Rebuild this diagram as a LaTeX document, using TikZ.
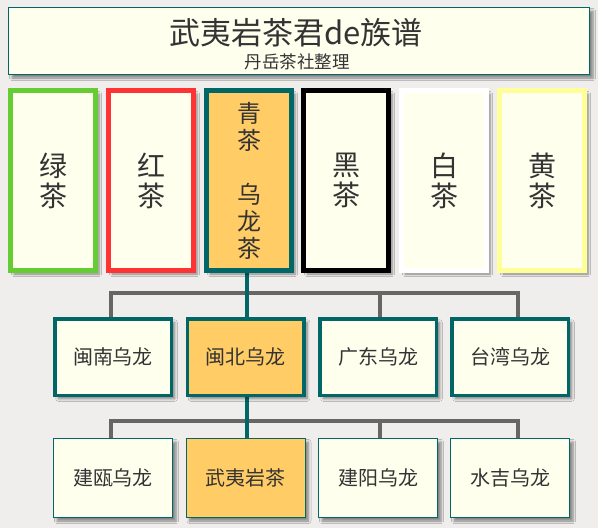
\documentclass[tikz,border=0pt]{standalone}
\usepackage{fontspec}
\setmainfont{Noto Sans CJK SC}
\usetikzlibrary{shadows.blur,backgrounds}
\definecolor{bg}{HTML}{EFEEED}
\definecolor{ivory}{HTML}{FFFFEE}
\definecolor{orangefill}{HTML}{FFCC66}
\definecolor{tealc}{HTML}{006666}
\definecolor{greenc}{HTML}{66CC33}
\definecolor{redc}{HTML}{FF3333}
\definecolor{yellowc}{HTML}{FFFF99}
\definecolor{grayline}{HTML}{666666}
\definecolor{txt}{HTML}{333333}
\tikzset{
  sh/.style={blur shadow={shadow xshift=3.5pt, shadow yshift=-3.5pt, shadow blur steps=6, shadow opacity=45, shadow blur radius=2.5pt}},
  topbox/.style={draw, line width=5pt, fill=ivory, minimum width=85pt, minimum height=180pt, inner sep=0pt, sh, text=txt, align=center, font=\fontsize{28}{30}\selectfont},
  midbox/.style={draw=tealc, line width=3.5pt, fill=ivory, minimum width=116.5pt, minimum height=76.5pt, inner sep=0pt, sh, text=txt, font=\fontsize{20}{22}\selectfont},
  lowbox/.style={draw=tealc, line width=1pt, fill=ivory, minimum width=119pt, minimum height=79pt, inner sep=0pt, sh, text=txt, font=\fontsize{20}{22}\selectfont},
  bus/.style={draw=grayline, line width=4pt},
  trunk/.style={draw=tealc, line width=4pt},
}
\begin{document}
\begin{tikzpicture}[x=1pt,y=-1pt]
\useasboundingbox (0,0) rectangle (598,528);

% title
\node[draw=tealc, line width=1pt, fill=ivory, minimum width=581pt, minimum height=67pt, inner sep=0pt, sh] (title) at (299,41) {};
\node[text=txt, font=\fontsize{31}{34}\selectfont, inner sep=0pt] (tmain) at (296,33) {武夷岩茶君de族谱};
\node[text=txt, font=\fontsize{17.5}{19}\selectfont, inner sep=0pt] (tsub) at (297,62) {丹岳茶社整理};

\coordinate (b1) at (110.5,293);
\coordinate (b2) at (380,293);
\coordinate (b3) at (518,293);
\coordinate (c1) at (110.5,421);
\coordinate (c2) at (380,421);
\coordinate (c3) at (518,421);

% top row
\node[topbox, draw=greenc] (lv) at (53,180.5) {绿\\茶};
\node[topbox, draw=redc] (hong) at (151,180.5) {红\\茶};
\node[topbox, draw=tealc, fill=orangefill, font=\fontsize{24}{27}\selectfont] (qing) at (249,180.5) {青\\茶\\\mbox{}\\乌\\龙\\茶};
\node[topbox, draw=black] (hei) at (346,180.5) {黑\\茶};
\node[topbox, draw=white] (bai) at (444,180.5) {白\\茶};
\node[topbox, draw=yellowc] (huang) at (542,180.5) {黄\\茶};

% second row
\node[midbox] (mn) at (113,357) {闽南乌龙};
\node[midbox, fill=orangefill] (mb) at (245.5,357) {闽北乌龙};
\node[midbox] (gd) at (378,357) {广东乌龙};
\node[midbox] (tw) at (510,357) {台湾乌龙};

% third row
\node[lowbox] (jo) at (113,478) {建瓯乌龙};
\node[lowbox, fill=orangefill] (wy) at (245.5,478) {武夷岩茶};
\node[lowbox] (jy) at (378,478) {建阳乌龙};
\node[lowbox] (sj) at (510,478) {水吉乌龙};

\begin{scope}[on background layer]
\fill[bg] (0,0) rectangle (598,528);
\draw[bus] (mn.north -| b1) -- (b1) -- (b3) -- (tw.north -| b3);
\draw[bus] (b2) -- (gd.north -| b2);
\draw[bus] (jo.north -| c1) -- (c1) -- (c3) -- (sj.north -| c3);
\draw[bus] (c2) -- (jy.north -| c2);
\draw[trunk] ([xshift=-2pt]qing.south) -- ([xshift=-2pt]qing.south |- mb.north);
\draw[trunk] ([xshift=1.5pt]mb.south) -- ([xshift=1.5pt]mb.south |- wy.north);
\end{scope}
\end{tikzpicture}
\end{document}
